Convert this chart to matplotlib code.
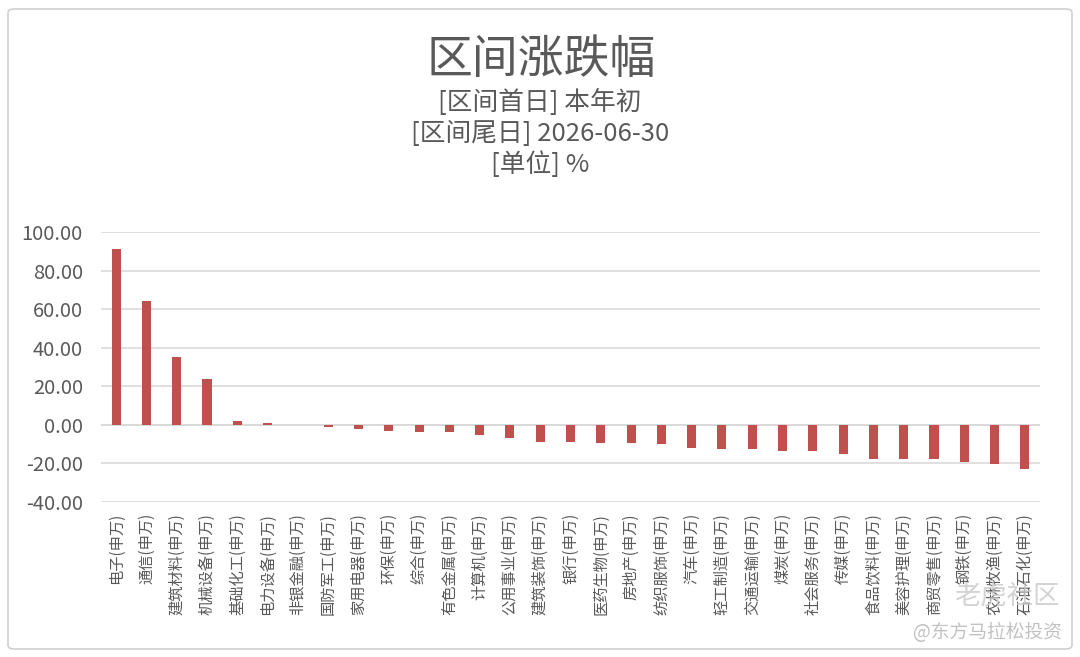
import matplotlib
matplotlib.use("Agg")
import matplotlib.pyplot as plt
from matplotlib.patches import FancyBboxPatch

plt.rcParams['font.family'] = ['Noto Sans CJK SC', 'DejaVu Sans']

categories = ["电子", "通信", "建筑材料", "机械设备", "基础化工", "电力设备", "非银金融",
              "国防军工", "家用电器", "环保", "综合", "有色金属", "计算机", "公用事业",
              "建筑装饰", "银行", "医药生物", "房地产", "纺织服饰", "汽车", "轻工制造",
              "交通运输", "煤炭", "社会服务", "传媒", "食品饮料", "美容护理", "商贸零售",
              "钢铁", "农林牧渔", "石油石化"]
suffix = "(申万)"
values = [91.0, 64.2, 35.1, 23.7, 2.1, 1.0, 0.1,
          -1.1, -2.3, -3.4, -3.5, -3.8, -5.4, -7.0,
          -8.9, -9.0, -9.6, -9.6, -10.1, -12.2, -12.7,
          -12.7, -13.3, -13.8, -14.9, -17.5, -17.5, -17.5,
          -19.1, -20.5, -22.8]
yticks = [100, 80, 60, 40, 20, 0, -20, -40]

title = "区间涨跌幅"
sub_lines = ["[区间首日] 本年初", "[区间尾日] 2026-06-30", "[单位] %"]

W, H = 1080, 657
fig = plt.figure(figsize=(W / 100, H / 100), dpi=100)
fig.patch.set_facecolor("white")

# border
border = FancyBboxPatch((8 / W, 8 / H), 1064 / W, 640 / H,
                        boxstyle="round,pad=0,rounding_size=0.006",
                        transform=fig.transFigure, fill=False,
                        edgecolor="#D0D0D0", linewidth=1.2)
fig.add_artist(border)

ax = fig.add_axes([101 / W, 1 - 502 / H, 939 / W, 270 / H])
x = list(range(len(categories)))
ax.bar(x, values, width=0.3, color="#C0504D", zorder=3)
ax.set_xlim(-0.5, len(categories) - 0.5)
ax.set_ylim(-40, 100)
ax.set_yticks(yticks)
ax.set_yticklabels([f"{v:.2f}" for v in yticks], fontsize=14.5, color="#595959")
ax.set_xticks(x)
ax.set_xticklabels([c + suffix for c in categories], rotation=90, fontsize=11,
                   color="#595959", va="top")
ax.tick_params(axis="both", length=0)
ax.tick_params(axis="y", pad=13)
ax.tick_params(axis="x", pad=8)
ax.grid(axis="y", color="#D9D9D9", linewidth=1.2, zorder=0)
for s in ax.spines.values():
    s.set_visible(False)
ax.axhline(0, color="#D9D9D9", linewidth=1.2, zorder=1)

fig.text(541 / W, 1 - 60 / H, title, ha="center", va="center", fontsize=33,
         color="#595959", fontweight="medium")
for i, line in enumerate(sub_lines):
    fig.text(540 / W, 1 - (102 + i * 31.5) / H, line, ha="center", va="center",
             fontsize=18.5, color="#595959")

# watermark
fig.text(1060 / W, 1 - 596 / H, "老虎社区", ha="right", va="center", fontsize=19,
         color="#C8C8C8", alpha=0.8)
fig.text(1062 / W, 1 - 633 / H, "@东方马拉松投资", ha="right", va="center", fontsize=13.5,
         color="#BBBBBB", alpha=0.9)

fig.savefig("out.png", dpi=100)
